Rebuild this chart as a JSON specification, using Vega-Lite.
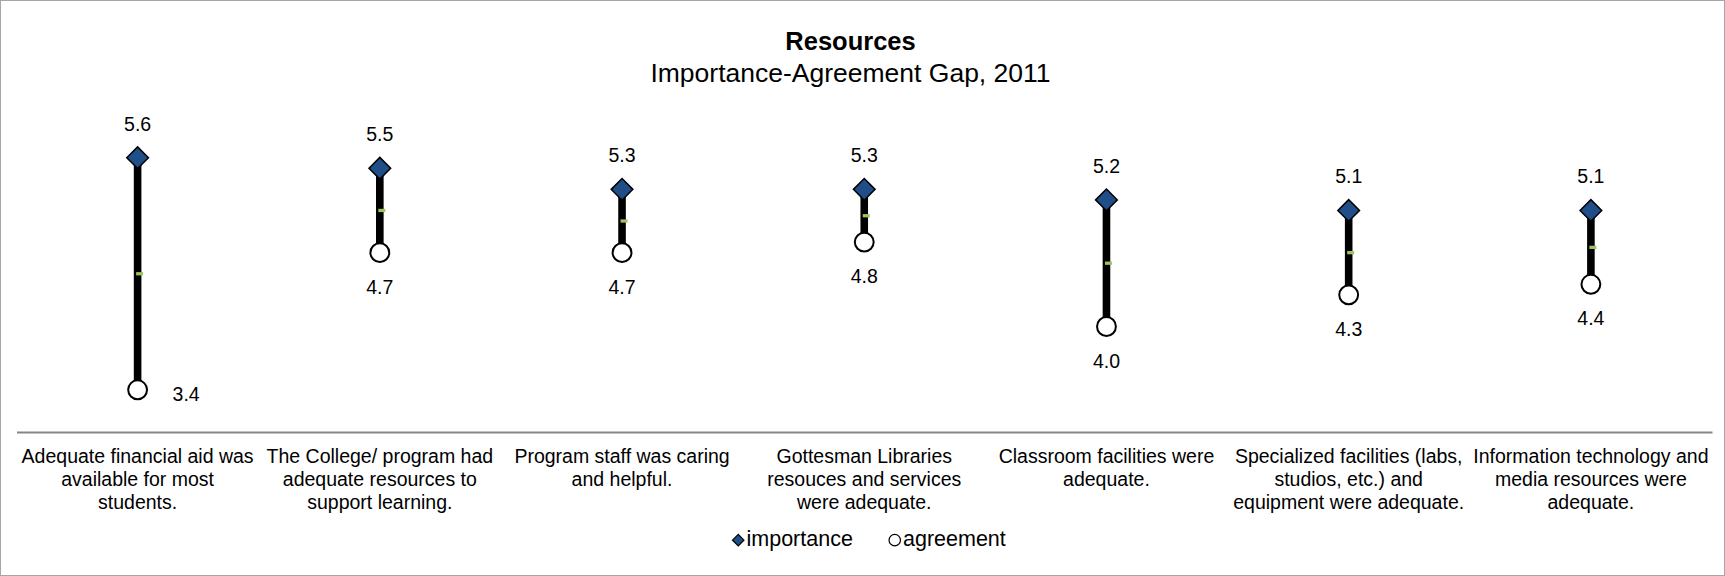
{
  "$schema": "https://vega.github.io/schema/vega-lite/v6.json",
  "width": 1725,
  "height": 576,
  "autosize": {"type": "none"},
  "padding": 0,
  "background": "white",
  "config": {
    "font": "Liberation Sans",
    "view": {"stroke": "#a6a6a6", "strokeWidth": 2},
    "legend": {
      "title": null,
      "orient": "none",
      "legendX": 727.5,
      "legendY": 529,
      "direction": "horizontal",
      "labelFont": "Liberation Sans",
      "labelFontSize": 21.5,
      "labelColor": "black",
      "labelOffset": -2.5,
      "columnPadding": 30.5,
      "symbolSize": 130,
      "symbolStrokeWidth": 1.2
    }
  },
  "title": {
    "text": "Resources",
    "subtitle": "Importance-Agreement Gap, 2011",
    "anchor": "middle",
    "frame": "group",
    "offset": -87,
    "dx": -12,
    "font": "Liberation Sans",
    "fontSize": 25.5,
    "fontWeight": "bold",
    "color": "black",
    "subtitleFont": "Liberation Sans",
    "subtitleFontSize": 26.5,
    "subtitleColor": "black",
    "subtitlePadding": 5
  },
  "data": {
    "values": [
      {"item": "Adequate financial aid was\navailable for most\nstudents.", "importance": 5.6, "agreement": 3.4},
      {"item": "The College/ program had\nadequate resources to\nsupport learning.", "importance": 5.5, "agreement": 4.7},
      {"item": "Program staff was caring\nand helpful.", "importance": 5.3, "agreement": 4.7},
      {"item": "Gottesman Libraries\nresouces and services\nwere adequate.", "importance": 5.3, "agreement": 4.8},
      {"item": "Classroom facilities were\nadequate.", "importance": 5.2, "agreement": 4.0},
      {"item": "Specialized facilities (labs,\nstudios, etc.) and\nequipment were adequate.", "importance": 5.1, "agreement": 4.3},
      {"item": "Information technology and\nmedia resources were\nadequate.", "importance": 5.1, "agreement": 4.4}
    ]
  },
  "encoding": {
    "x": {
      "field": "item",
      "type": "nominal",
      "sort": null,
      "scale": {"type": "band", "range": [16.5, 1712], "paddingInner": 0, "paddingOuter": 0},
      "axis": {
        "title": null,
        "orient": "bottom",
        "offset": -144,
        "domainColor": "#868686",
        "domainWidth": 2,
        "ticks": false,
        "grid": false,
        "labelExpr": "split(datum.label, '\\n')",
        "labelFont": "Liberation Sans",
        "labelFontSize": 19.5,
        "labelColor": "black",
        "labelLineHeight": 23,
        "labelPadding": 15.5,
        "labelLimit": 0,
        "labelAngle": 0,
        "labelOverlap": false,
        "labelBound": false
      }
    }
  },
  "layer": [
    {
      "mark": {"type": "rule", "strokeWidth": 7.6, "color": "black"},
      "encoding": {
        "y": {"field": "importance", "type": "quantitative", "scale": {"domain": [3, 7], "range": [432, 10]}, "axis": null},
        "y2": {"field": "agreement"}
      }
    },
    {
      "transform": [
        {"fold": ["importance", "agreement"], "as": ["measure", "value"]},
        {"aggregate": [{"op": "mean", "field": "value", "as": "mid"}], "groupby": ["item"]}
      ],
      "mark": {"type": "tick", "color": "#A2C15C", "size": 7, "thickness": 3.3, "xOffset": 2, "opacity": 1},
      "encoding": {
        "y": {"field": "mid", "type": "quantitative", "axis": null}
      }
    },
    {
      "mark": {"type": "point", "filled": true, "strokeWidth": 1.5, "opacity": 1, "fillOpacity": 1, "strokeOpacity": 1, "size": 470},
      "encoding": {
        "y": {"field": "importance", "type": "quantitative", "axis": null},
        "shape": {
          "datum": "importance",
          "type": "nominal",
          "scale": {"domain": ["importance", "agreement"], "range": ["diamond", "circle"]},
          "legend": {
            "encode": {
              "symbols": {
                "update": {
                  "size": {"signal": "datum.value === 'importance' ? 175 : 95"}
                }
              }
            }
          }
        },
        "fill": {
          "datum": "importance",
          "type": "nominal",
          "scale": {"domain": ["importance", "agreement"], "range": ["#1F4E88", "white"]}
        },
        "stroke": {
          "datum": "importance",
          "type": "nominal",
          "scale": {"domain": ["importance", "agreement"], "range": ["black", "black"]}
        }
      }
    },
    {
      "mark": {"type": "point", "filled": true, "strokeWidth": 2, "opacity": 1, "fillOpacity": 1, "strokeOpacity": 1, "size": 356},
      "encoding": {
        "y": {"field": "agreement", "type": "quantitative", "axis": null},
        "shape": {"datum": "agreement", "type": "nominal"},
        "fill": {"datum": "agreement", "type": "nominal"},
        "stroke": {"datum": "agreement", "type": "nominal"}
      }
    },
    {
      "mark": {"type": "text", "dy": -33, "baseline": "middle", "align": "center", "fontSize": 19.5, "color": "black"},
      "encoding": {
        "y": {"field": "importance", "type": "quantitative", "axis": null},
        "text": {"field": "importance", "type": "quantitative", "format": ".1f"}
      }
    },
    {
      "transform": [{"filter": "datum.agreement >= 3.6"}],
      "mark": {"type": "text", "dy": 35, "baseline": "middle", "align": "center", "fontSize": 19.5, "color": "black"},
      "encoding": {
        "y": {"field": "agreement", "type": "quantitative", "axis": null},
        "text": {"field": "agreement", "type": "quantitative", "format": ".1f"}
      }
    },
    {
      "transform": [{"filter": "datum.agreement < 3.6"}],
      "mark": {"type": "text", "dx": 35, "dy": 5.5, "baseline": "middle", "align": "left", "fontSize": 19.5, "color": "black"},
      "encoding": {
        "y": {"field": "agreement", "type": "quantitative", "axis": null},
        "text": {"field": "agreement", "type": "quantitative", "format": ".1f"}
      }
    }
  ]
}
